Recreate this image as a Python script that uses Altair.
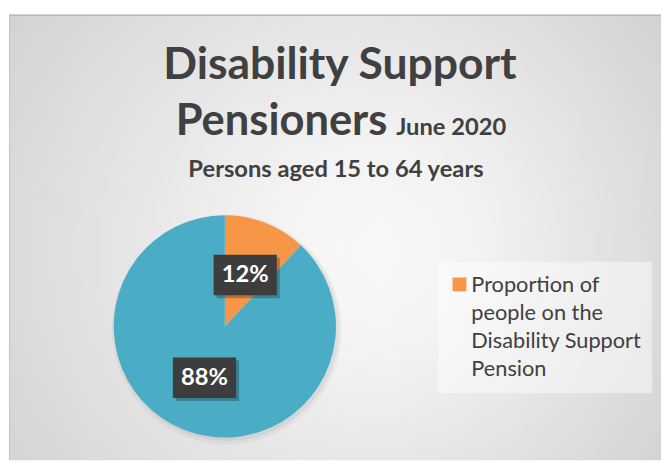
import altair as alt
import pandas as pd

# ---- data ----
categories = ["Proportion of people on the Disability Support Pension", "Other"]
shares = [12, 88]
slice_colors = ["#F79646", "#4BACC6"]
label_texts = ["12%", "88%"]
title_line1 = ["Disability Support"]
title_line2 = ["Pensioners"]
title_date = ["June 2020"]
subtitle = ["Persons aged 15 to 64 years"]
legend_lines = ["Proportion of", "people on the", "Disability Support", "Pension"]

# ---- layout constants ----
W, H = 661, 455
CX, CY, R = 219.5, 319.5, 112.5
LR = 56
TXT = "#404040"
FONT = "Lato"

df = pd.DataFrame({"category": categories, "share": shares,
                   "order": list(range(len(categories))), "label": label_texts})
one = pd.DataFrame({"a": [0]})

bg = alt.Chart(one).mark_rect(
    color=alt.Gradient(
        gradient="radial", x1=0.585, y1=0.52, r1=0, x2=0.585, y2=0.52, r2=0.72,
        stops=[alt.GradientStop(color="#ffffff", offset=0),
               alt.GradientStop(color="#fbfbfb", offset=0.2),
               alt.GradientStop(color="#d0d0d0", offset=1)])
).encode(x=alt.value(1), x2=alt.value(W), y=alt.value(4), y2=alt.value(H))

bg2 = alt.Chart(one).mark_rect(
    color=alt.Gradient(
        gradient="linear", x1=0, y1=0, x2=1, y2=0,
        stops=[alt.GradientStop(color="rgba(0,0,0,0)", offset=0),
               alt.GradientStop(color="rgba(0,0,0,0.05)", offset=1)])
).encode(x=alt.value(1), x2=alt.value(W), y=alt.value(4), y2=alt.value(H))

top_rule = alt.Chart(one).mark_rule(color="#b8b8b8", strokeWidth=1.5).encode(
    x=alt.value(1), x2=alt.value(W), y=alt.value(4.5), y2=alt.value(4.5))
left_rule = alt.Chart(one).mark_rule(color="#c4c4c4", strokeWidth=1).encode(
    x=alt.value(1.5), x2=alt.value(1.5), y=alt.value(4), y2=alt.value(H))

pie_base = alt.Chart(df).encode(
    theta=alt.Theta("share:Q", stack=True),
    order=alt.Order("order:Q"),
)
shadow1 = pie_base.mark_arc(radius=R + 4, color="black", opacity=0.035).encode(
    x=alt.value(CX + 2), y=alt.value(CY + 3))
shadow2 = pie_base.mark_arc(radius=R + 1.5, color="black", opacity=0.05).encode(
    x=alt.value(CX + 2), y=alt.value(CY + 2))
pie = pie_base.mark_arc(radius=R).encode(
    color=alt.Color("category:N", scale=alt.Scale(domain=categories, range=slice_colors),
                    legend=None),
    x=alt.value(CX), y=alt.value(CY))

lab = alt.Chart(df).transform_joinaggregate(
    total="sum(share)"
).transform_window(
    cum="sum(share)", sort=[alt.SortField("order")], frame=[None, 0]
).transform_calculate(
    mid="2*PI*(datum.cum - datum.share/2)/datum.total",
).transform_calculate(
    px=f"{CX} + {LR}*sin(datum.mid)",
    py=f"{CY} - {LR}*cos(datum.mid)",
).transform_calculate(
    bx1="datum.px - 32", bx2="datum.px + 32",
    by1="datum.py - 20.5", by2="datum.py + 20.5",
    sx1="datum.px - 29", sx2="datum.px + 35",
    sy1="datum.py - 17.5", sy2="datum.py + 23.5",
)
box_shadow = lab.mark_rect(color="black", opacity=0.25).encode(
    x=alt.X("sx1:Q", scale=None, axis=None), x2="sx2:Q",
    y=alt.Y("sy1:Q", scale=None, axis=None), y2="sy2:Q")
box = lab.mark_rect(color="#3d3d3d").encode(
    x=alt.X("bx1:Q", scale=None, axis=None), x2="bx2:Q",
    y=alt.Y("by1:Q", scale=None, axis=None), y2="by2:Q")
lab_text = lab.mark_text(font=FONT, fontSize=24, fontWeight="bold", color="white",
                         align="center", baseline="middle").encode(
    x=alt.X("px:Q", scale=None, axis=None), y=alt.Y("py:Q", scale=None, axis=None),
    text="label:N")

legend_bg = alt.Chart(one).mark_rect(color="white", opacity=0.45).encode(
    x=alt.value(435), x2=alt.value(652), y=alt.value(254), y2=alt.value(387))
legend_sq = alt.Chart(df).transform_filter("datum.order == 0").mark_square(
    size=196, opacity=1, filled=True).encode(
    color=alt.Color("category:N", scale=alt.Scale(domain=categories, range=slice_colors),
                    legend=None),
    x=alt.value(457), y=alt.value(277))
legend_txt = alt.Chart(pd.DataFrame({"t": ["\n".join(legend_lines)]})).mark_text(
    font=FONT, fontSize=22, color=TXT, align="left", baseline="middle",
    lineBreak="\n", lineHeight=28.3).encode(
    x=alt.value(469), y=alt.value(277.5), text="t:N")

t1 = alt.Chart(pd.DataFrame({"t": title_line1})).mark_text(
    font=FONT, fontSize=45, fontWeight="bold", color=TXT, align="center",
    baseline="alphabetic").encode(x=alt.value(336), y=alt.value(69.3), text="t:N")
t2 = alt.Chart(pd.DataFrame({"t": title_line2})).mark_text(
    font=FONT, fontSize=44, fontWeight="bold", color=TXT, align="right",
    baseline="alphabetic").encode(x=alt.value(384), y=alt.value(126), text="t:N")
t3 = alt.Chart(pd.DataFrame({"t": title_date})).mark_text(
    font=FONT, fontSize=24, fontWeight="bold", color=TXT, align="left",
    baseline="alphabetic").encode(x=alt.value(393), y=alt.value(126), text="t:N")
t4 = alt.Chart(pd.DataFrame({"t": subtitle})).mark_text(
    font=FONT, fontSize=24, fontWeight="bold", color=TXT, align="center",
    baseline="alphabetic").encode(x=alt.value(332), y=alt.value(168.5), text="t:N")

chart = alt.layer(
    bg, bg2, top_rule, left_rule, shadow1, shadow2, pie,
    box_shadow, box, lab_text, legend_bg, legend_sq, legend_txt, t1, t2, t3, t4
).properties(
    width=W, height=H, padding=0, autosize=alt.AutoSizeParams(type="none")
).configure(background="white").configure_view(stroke=None)

chart.save("out.html", embed_options={"renderer": "svg", "actions": False})
